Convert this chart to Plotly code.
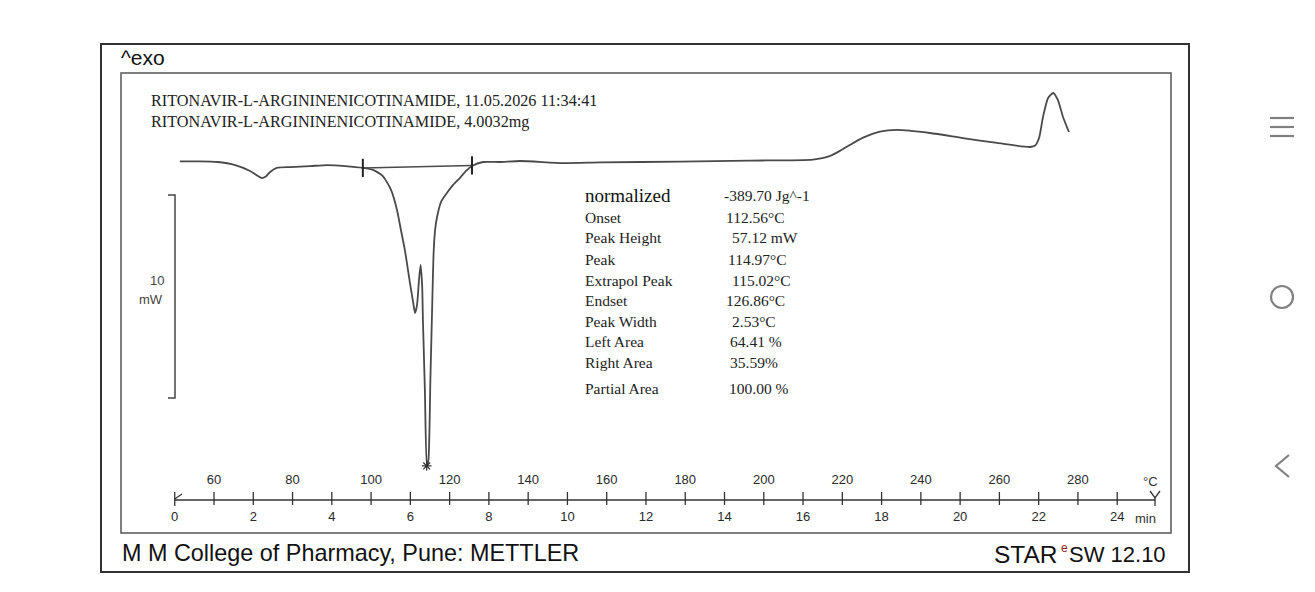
import plotly.graph_objects as go

W, H = 1315, 592

# ---------------- data ----------------
temperature_c = [51.3, 56.4, 60.8, 65.4, 69.2, 71.2, 72.2, 73.2, 74.3, 76.0, 79.4, 84.5, 88.8,
                 93.4, 97.9, 100.5, 103.0, 105.1, 106.6, 107.6, 108.6, 109.9, 110.7, 111.2,
                 111.7, 112.2, 112.6, 113.0, 113.2, 113.7, 114.2, 114.6, 115.1, 115.6, 115.9,
                 116.3, 116.8, 117.8, 119.3, 120.9, 122.6, 124.2, 125.7, 128.5, 132.8, 137.9,
                 148.9, 158.3, 178.7, 196.5, 212.5, 216.9, 219.4, 222.0, 225.3, 229.6, 233.9,
                 242.3, 250.7, 259.4, 267.8, 269.1, 270.1, 271.1, 272.4, 273.7, 274.9, 276.2,
                 277.7]
heat_flow_mw = [-0.02, -0.02, -0.05, -0.20, -0.49, -0.74, -0.84, -0.76, -0.54, -0.34, -0.30,
                -0.25, -0.20, -0.25, -0.34, -0.44, -0.74, -1.43, -2.41, -3.40, -4.38, -6.01,
                -6.95, -7.49, -7.09, -5.86, -5.12, -6.11, -7.83, -11.28, -15.02, -14.73,
                -10.79, -6.85, -4.63, -3.40, -2.76, -2.02, -1.58, -1.18, -0.84, -0.49, -0.25,
                -0.05, -0.05, 0.00, -0.10, -0.07, -0.03, 0.02, 0.07, 0.25, 0.50, 0.80, 1.15,
                1.45, 1.53, 1.38, 1.13, 0.89, 0.69, 0.76, 1.13, 2.17, 3.10, 3.35, 3.00, 2.17,
                1.43]

baseline_temp = [97.9, 125.7]
baseline_mw = [-0.34, -0.22]
peak_temp = [114.16]
peak_mw = [-15.02]

tick_temps = list(range(60, 300, 10))
temp_labels = list(range(60, 300, 20))
time_labels = list(range(0, 26, 2))
start_temp = 50.0          # 0 min
heating_rate = 10.0        # K/min
scale_bar_mw = 10

header_lines = ["RITONAVIR-L-ARGININENICOTINAMIDE, 11.05.2026 11:34:41",
                "RITONAVIR-L-ARGININENICOTINAMIDE, 4.0032mg"]
result_names = ["Onset", "Peak Height", "Peak", "Extrapol Peak", "Endset",
                "Peak Width", "Left Area", "Right Area", "Partial Area"]
result_values = ["112.56°C", "57.12 mW", "114.97°C", "115.02°C", "126.86°C",
                 "2.53°C", "64.41 %", "35.59%", "100.00 %"]
normalized_value = "-389.70 Jg^-1"

# ---------------- pixel helpers (layout only) ----------------
OFF = 8  # page body margin of the browser
PX_PER_C = 3.927
PX_AT_60 = 214.0 - OFF
PX_PER_MW = 20.3
PY_AT_0 = 161.0 - OFF
XR = [60 - PX_AT_60 / PX_PER_C, 60 + (W - PX_AT_60) / PX_PER_C]
YR = [(PY_AT_0 - H) / PX_PER_MW, PY_AT_0 / PX_PER_MW]


def t_of_px(px):
    return 60 + (px - OFF - PX_AT_60) / PX_PER_C


def v_of_py(py):
    return (PY_AT_0 - (py - OFF)) / PX_PER_MW


def pxp(px):
    return (px - OFF) / W


def pyp(py):
    return 1 - (py - OFF) / H


fig = go.Figure()

# DSC curve
fig.add_trace(go.Scatter(x=temperature_c, y=heat_flow_mw, mode="lines",
                         line=dict(color="#4a4a4a", width=1.8, shape="spline", smoothing=0.6),
                         hoverinfo="skip", showlegend=False))
# integration baseline with limit markers
fig.add_trace(go.Scatter(x=baseline_temp, y=baseline_mw, mode="lines+markers",
                         line=dict(color="#4a4a4a", width=1.5),
                         marker=dict(symbol="line-ns", size=13, color="#222",
                                     line=dict(color="#222", width=2)),
                         hoverinfo="skip", showlegend=False))
# peak marker
fig.add_trace(go.Scatter(x=peak_temp, y=peak_mw, mode="markers",
                         marker=dict(symbol="asterisk-open", size=8, color="#333",
                                     line=dict(color="#333", width=1.2)),
                         hoverinfo="skip", showlegend=False))

# temperature / time axis
ax_y = v_of_py(500)
t_start = start_temp
t_end = t_of_px(1155)
fig.add_trace(go.Scatter(x=[t_start, t_end], y=[ax_y, ax_y], mode="lines",
                         line=dict(color="#333", width=1.3), hoverinfo="skip", showlegend=False))
tx, ty = [], []
for t in tick_temps:
    tx += [t, t, None]
    ty += [v_of_py(492), v_of_py(505), None]
# start mark
tx += [t_start, t_start, None, t_start, t_of_px(182), None]
ty += [v_of_py(492), v_of_py(506), None, v_of_py(499), v_of_py(494), None]
# end arrow
tx += [t_of_px(1150), t_end, t_of_px(1160), None, t_end, t_end]
ty += [v_of_py(491), v_of_py(498), v_of_py(491), None, v_of_py(498), v_of_py(506)]
fig.add_trace(go.Scatter(x=tx, y=ty, mode="lines", line=dict(color="#333", width=1.3),
                         hoverinfo="skip", showlegend=False))
TICKFONT = dict(family="Liberation Sans, Arial", size=13, color="#2a2a2a")
fig.add_trace(go.Scatter(x=temp_labels, y=[v_of_py(481)] * len(temp_labels), mode="text",
                         text=[str(t) for t in temp_labels], textposition="middle center",
                         textfont=TICKFONT, hoverinfo="skip", showlegend=False))
fig.add_trace(go.Scatter(x=[start_temp + heating_rate * m for m in time_labels],
                         y=[v_of_py(518)] * len(time_labels), mode="text",
                         text=[str(m) for m in time_labels], textposition="middle center",
                         textfont=TICKFONT, hoverinfo="skip", showlegend=False))

# 10 mW scale bracket
bx = t_of_px(175)
bx2 = t_of_px(168)
top = v_of_py(195)
fig.add_trace(go.Scatter(x=[bx2, bx, bx, bx2], y=[top, top, top - scale_bar_mw, top - scale_bar_mw],
                         mode="lines", line=dict(color="#444", width=1.5),
                         hoverinfo="skip", showlegend=False))

ann = []


def add_text(text, px, py, size, family, color="#222", xanchor="left"):
    ann.append(dict(text=text, x=pxp(px), y=pyp(py), xref="paper", yref="paper",
                    xanchor=xanchor, yanchor="middle", showarrow=False,
                    font=dict(size=size, family=family, color=color)))


SANS = "Liberation Sans, Arial"
SERIF = "Liberation Serif, Times New Roman"
add_text("^exo", 119, 58, 21, SANS, "#111")
add_text(header_lines[0], 149, 101, 16.2, SERIF, "#222")
add_text(header_lines[1], 149, 122, 16.2, SERIF, "#222")
add_text("normalized", 583, 195, 19, SERIF, "#111")
add_text(normalized_value, 722, 195, 15.5, SERIF, "#222")
name_y = [217, 238, 259, 280, 300, 321, 341, 362, 389]
value_x = [724, 730, 726, 730, 724, 730, 728, 728, 727]
for n, v, y, vx in zip(result_names, result_values, name_y, value_x):
    add_text(n, 583, y, 15.5, SERIF, "#222")
    add_text(v, vx, y, 15.5, SERIF, "#222")
add_text("10", 157, 280, 13, SANS, "#444", "center")
add_text("mW", 151, 299, 13, SANS, "#444", "center")
add_text("°C", 1150, 481, 13, SANS, "#333", "center")
add_text("min", 1145, 518, 13, SANS, "#333", "center")
add_text("M M College of Pharmacy, Pune: METTLER", 120, 553, 23.4, SANS, "#111")
add_text("STAR", 1060, 554, 24.5, SANS, "#111", "right")
add_text("e", 1064, 548, 12, SANS, "#8b1a1a", "center")
add_text("SW 12.10", 1168, 554, 22, SANS, "#111", "right")

shapes = [
    dict(type="rect", xref="paper", yref="paper", x0=pxp(101), x1=pxp(1189), y0=pyp(572), y1=pyp(44),
         line=dict(color="#333", width=2)),
    dict(type="rect", xref="paper", yref="paper", x0=pxp(121), x1=pxp(1171), y0=pyp(533), y1=pyp(73),
         line=dict(color="#555", width=1.5)),
]
# phone navigation glyphs at right edge
for yy in (118, 127, 136):
    shapes.append(dict(type="line", xref="paper", yref="paper", x0=pxp(1270), x1=pxp(1294),
                       y0=pyp(yy), y1=pyp(yy), line=dict(color="#808080", width=2.2)))
shapes.append(dict(type="circle", xref="paper", yref="paper", x0=pxp(1271), x1=pxp(1293),
                   y0=pyp(308), y1=pyp(286), line=dict(color="#808080", width=2.2)))
shapes.append(dict(type="path", xref="paper", yref="paper",
                   path=f"M {pxp(1289)} {pyp(455)} L {pxp(1276)} {pyp(466)} L {pxp(1289)} {pyp(477)}",
                   line=dict(color="#808080", width=2.2)))

fig.update_layout(
    width=W, height=H, margin=dict(l=0, r=0, t=0, b=0),
    paper_bgcolor="white", plot_bgcolor="white",
    xaxis=dict(range=XR, visible=False, fixedrange=True),
    yaxis=dict(range=YR, visible=False, fixedrange=True),
    annotations=ann, shapes=shapes, showlegend=False,
)

fig.write_html("out.html")
